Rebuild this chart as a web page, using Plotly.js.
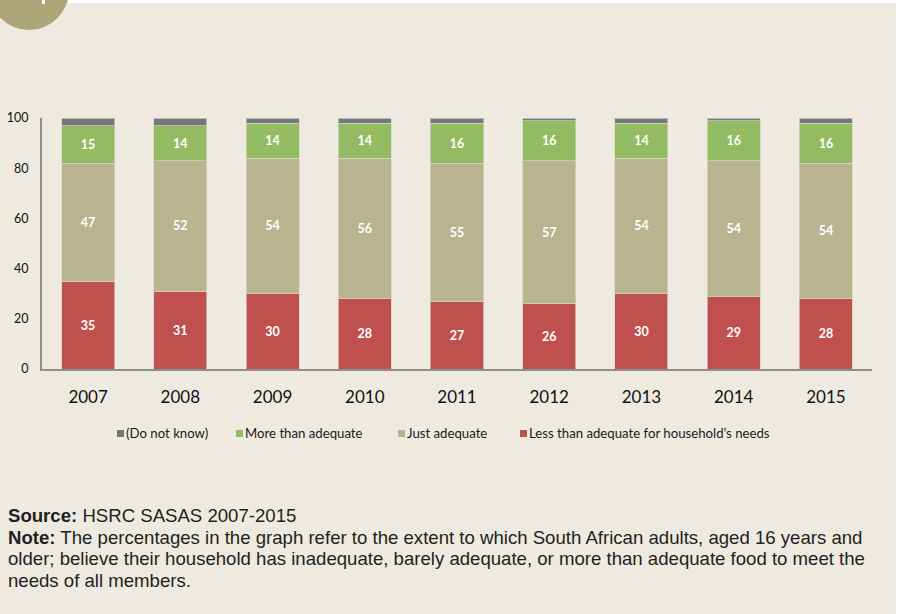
<!DOCTYPE html>
<html>
<head>
<meta charset="utf-8">
<script src="https://cdn.plot.ly/plotly-3.0.1.min.js"></script>
<style>
  html, body { margin:0; padding:0; width:901px; height:614px; overflow:hidden; background:#EEEAE0; }
  #chart { position:absolute; left:0; top:0; width:901px; height:614px; }
  .deco { position:absolute; z-index:5; }
  #legend { position:absolute; left:0; top:425px; width:901px; height:18px; z-index:6;
            font-family:Lato, "Open Sans", sans-serif; font-size:13.2px; color:#1a1a1a; }
  .litem { position:absolute; top:0; white-space:nowrap; line-height:16px; }
  .lsw { display:inline-block; width:7px; height:7px; margin-right:2px; vertical-align:1px; }
  #notes { position:absolute; left:8px; top:505px; z-index:6; font-family:"Liberation Sans", Arial, sans-serif;
           font-size:18.6px; line-height:21.5px; color:#231f20; white-space:nowrap; }
</style>
</head>
<body>
<div id="chart"></div>
<div class="deco" style="left:-11px; top:-50px; width:80px; height:80px; border-radius:50%; background:#ACA577;"></div>
<div class="deco" style="left:42px; top:0; width:3px; height:4px; background:#ffffff; z-index:7;"></div>
<div class="deco" style="left:68px; top:0; width:833px; height:3px; background:#ffffff;"></div>
<div class="deco" style="left:896px; top:0; width:5px; height:614px; background:#ffffff;"></div>
<div id="legend"></div>
<div id="notes"></div>
<script>
// ---- data ----
var years = ['2007','2008','2009','2010','2011','2012','2013','2014','2015'];
var lessThanAdequate = [35, 31, 30, 28, 27, 26, 30, 29, 28];
var justAdequate     = [47, 52, 54, 56, 55, 57, 54, 54, 54];
var moreThanAdequate = [15, 14, 14, 14, 16, 16, 14, 16, 16];
var doNotKnow        = [3, 3, 2, 2, 2, 1, 2, 1, 2];
var seriesNames = ['Less than adequate for household\u2019s needs', 'Just adequate', 'More than adequate', '(Do not know)'];
var yTicks = [0, 20, 40, 60, 80, 100];
var sourceText = 'HSRC SASAS 2007-2015';
var noteLines = ['The percentages in the graph refer to the extent to which South African adults, aged 16 years and',
                 'older; believe their household has inadequate, barely adequate, or more than adequate food to meet the',
                 'needs of all members.'];

// ---- styles ----
var colors = ['#C0504D', '#B8B48F', '#92BB62', '#75787B'];
var seriesValues = [lessThanAdequate, justAdequate, moreThanAdequate, doNotKnow];
var showText = [true, true, true, false];

var traces = seriesValues.map(function(vals, i){
  return {
    type:'bar', x: years, y: vals, name: seriesNames[i],
    marker:{ color: colors[i], line:{ color:'rgba(215,212,198,0.7)', width:1 } },
    text: showText[i] ? vals.map(String) : null,
    texttemplate: showText[i] ? '%{text}' : '',
    textposition: showText[i] ? 'inside' : 'none',
    insidetextanchor:'middle', textangle:0, constraintext:'none',
    textfont:{ family:'Lato, "Open Sans", sans-serif', size:12.5, color:'#ffffff', weight:'bold' },
    hoverinfo:'none', showlegend:false
  };
});

var layout = {
  width:901, height:614,
  margin:{ l:42, r:29, t:118, b:245, pad:0 },
  paper_bgcolor:'rgba(0,0,0,0)', plot_bgcolor:'rgba(0,0,0,0)',
  barmode:'stack', bargap:0.425,
  showlegend:false,
  xaxis:{ type:'category', showline:true, linecolor:'#8E8E8E', linewidth:2,
          showgrid:false, zeroline:false, ticks:'outside', ticklen:12, tickcolor:'rgba(0,0,0,0)',
          tickfont:{ family:'Lato, "Open Sans", sans-serif', size:17, color:'#111111' } },
  yaxis:{ range:[0,100], tickvals:yTicks, showline:true, linecolor:'#8E8E8E', linewidth:2,
          showgrid:false, zeroline:false, ticks:'outside', ticklen:9, tickcolor:'rgba(0,0,0,0)',
          tickfont:{ family:'Lato, "Open Sans", sans-serif', size:12.5, color:'#111111' } }
};

Plotly.newPlot('chart', traces, layout, { staticPlot:true, displayModeBar:false });

// ---- custom legend (order: DK, More, Just, Less) ----
var legendOrder = [3, 2, 1, 0];
var legendX = [117, 236, 398, 520];
var lg = document.getElementById('legend');
legendOrder.forEach(function(si, k){
  var d = document.createElement('div');
  d.className = 'litem';
  d.style.left = legendX[k] + 'px';
  var sw = document.createElement('span');
  sw.className = 'lsw';
  sw.style.background = colors[si];
  d.appendChild(sw);
  d.appendChild(document.createTextNode(seriesNames[si]));
  lg.appendChild(d);
});

// ---- source / note ----
var nt = document.getElementById('notes');
nt.innerHTML = '<b>Source:</b> ' + sourceText + '<br><b>Note:</b> ' + noteLines.join('<br>');
</script>
</body>
</html>
